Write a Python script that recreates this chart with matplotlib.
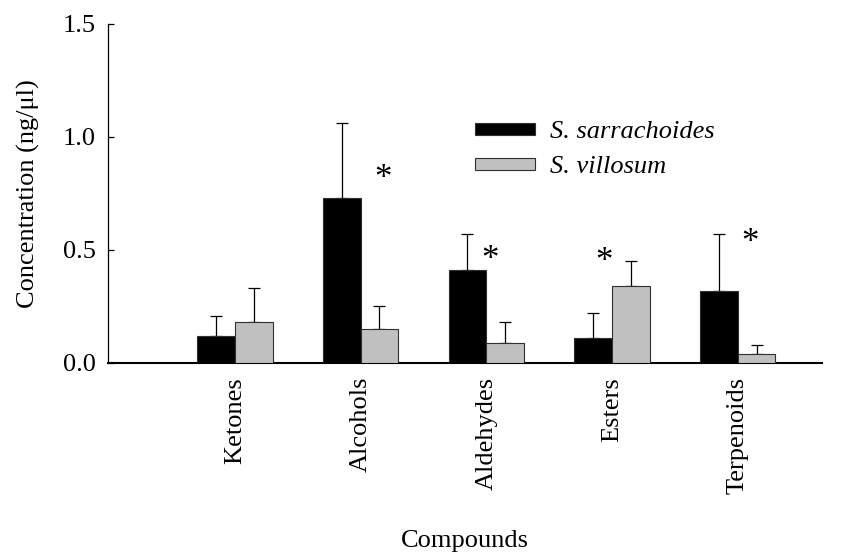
import matplotlib
matplotlib.use("Agg")
import matplotlib.pyplot as plt
import numpy as np

plt.rcParams['font.family'] = ['Liberation Serif', 'DejaVu Serif']
plt.rcParams['font.size'] = 19

compounds = ['Ketones', 'Alcohols', 'Aldehydes', 'Esters', 'Terpenoids']
sarrachoides = [0.12, 0.73, 0.41, 0.11, 0.32]
sarrachoides_err = [0.09, 0.33, 0.16, 0.11, 0.25]
villosum = [0.18, 0.15, 0.09, 0.34, 0.04]
villosum_err = [0.15, 0.10, 0.09, 0.11, 0.04]
# significance markers: (group index, x offset, height)
stars = [(1, 0.175, 0.81), (2, 0.03, 0.455), (3, -0.06, 0.443), (4, 0.095, 0.527)]

x = np.arange(1, len(compounds) + 1)
w = 0.30

fig = plt.figure(figsize=(8.55, 5.54), dpi=100)
ax = fig.add_axes([0.1263, 0.3448, 0.835, 0.612])

ax.bar(x - w / 2, sarrachoides, w, color='black', edgecolor='#303030', linewidth=0.8,
       label='S. sarrachoides', zorder=3)
ax.bar(x + w / 2, villosum, w, color='#c0c0c0', edgecolor='#303030', linewidth=0.8,
       label='S. villosum', zorder=3)
ax.errorbar(x - w / 2, sarrachoides, yerr=[np.zeros(5), sarrachoides_err], fmt='none',
            ecolor='black', elinewidth=0.9, capsize=4.5, capthick=0.9, zorder=2)
ax.errorbar(x + w / 2, villosum, yerr=[np.zeros(5), villosum_err], fmt='none',
            ecolor='black', elinewidth=0.9, capsize=4.5, capthick=0.9, zorder=2)

for i, dx, h in stars:
    ax.text(x[i] + dx, h, '*', ha='center', va='center', fontsize=25)

ax.set_xlim(-0.01, 5.67)
ax.set_ylim(0, 1.5)
ax.set_yticks([0.0, 0.5, 1.0, 1.5])
ax.set_yticklabels(['0.0', '0.5', '1.0', '1.5'])
ax.set_xticks(x)
ax.set_xticklabels(compounds, rotation=90)
ax.tick_params(axis='x', length=0, pad=10)
ax.tick_params(axis='y', direction='in', length=4.5, width=0.9, pad=9)
for s in ['top', 'right']:
    ax.spines[s].set_visible(False)
ax.spines['left'].set_linewidth(0.9)
ax.spines['bottom'].set_linewidth(1.5)

ax.set_ylabel('Concentration (ng/μl)', labelpad=16)
ax.set_xlabel('Compounds', labelpad=26)

leg = ax.legend(loc='upper left', bbox_to_anchor=(0.514, 0.713), frameon=False,
                handlelength=2.27, handleheight=0.34, handletextpad=0.57,
                labelspacing=0.5, borderpad=0, borderaxespad=0,
                prop={'style': 'italic', 'size': 19})

fig.savefig('out.png', dpi=100)
